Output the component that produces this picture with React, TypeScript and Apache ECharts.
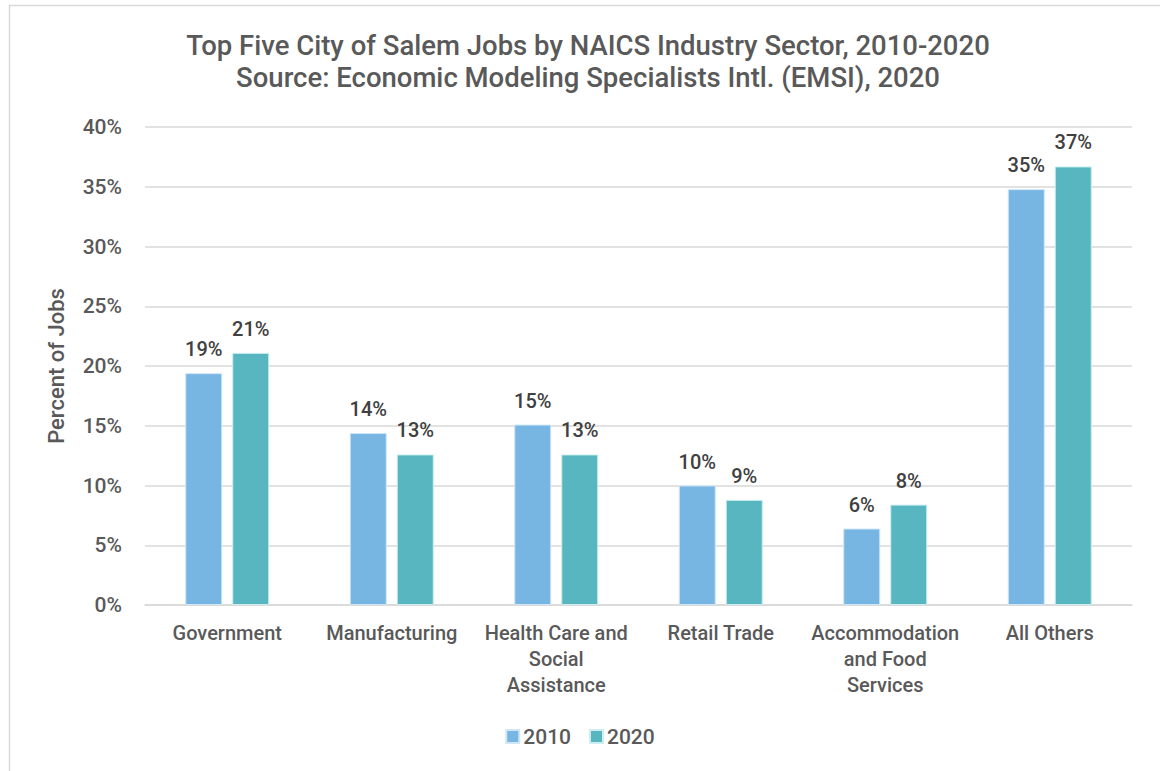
import React, { useEffect, useRef } from "react";
import * as echarts from "echarts";

const categories = [
  "Government",
  "Manufacturing",
  "Health Care and\nSocial\nAssistance",
  "Retail Trade",
  "Accommodation\nand Food\nServices",
  "All Others",
];
const series2010 = [19.4, 14.4, 15.1, 10.0, 6.4, 34.8];
const series2020 = [21.1, 12.6, 12.6, 8.8, 8.4, 36.7];
const seriesNames = ["2010", "2020"];
const yTicks = { min: 0, max: 40, interval: 5 };

const FONT = "Roboto";

export default function App() {
  const ref = useRef<HTMLDivElement>(null);
  useEffect(() => {
    const chart = echarts.init(ref.current!, null, { renderer: "svg" });
    const label = {
      show: true,
      position: "top",
      distance: 14,
      fontFamily: FONT,
      fontSize: 20,
      fontWeight: 500,
      color: "#404040",
      formatter: (p: any) => Math.round(p.value) + "%",
    };
    chart.setOption({
      animation: false,
      backgroundColor: "#fff",
      textStyle: { fontFamily: FONT },
      graphic: [
        {
          type: "rect",
          shape: { x: 9.5, y: 5.5, width: 1300, height: 900 },
          style: { fill: "none", stroke: "#d9d9d9", lineWidth: 1.5 },
          silent: true,
        },
      ],
      title: {
        text: "Top Five City of Salem Jobs by NAICS Industry Sector, 2010-2020\nSource: Economic Modeling Specialists Intl. (EMSI), 2020",
        left: 583,
        textAlign: "center",
        top: 24,
        textStyle: {
          fontFamily: FONT,
          fontSize: 27.5,
          fontWeight: 500,
          color: "#595959",
          lineHeight: 32,
        },
      },
      legend: {
        data: seriesNames,
        bottom: 19,
        left: "center",
        itemWidth: 13,
        itemHeight: 13,
        itemGap: 18,
        icon: "rect",
        textStyle: { fontFamily: FONT, fontSize: 21, fontWeight: 500, color: "#595959", padding: [0, 0, 0, -1] },
      },
      grid: { left: 145, right: 28, top: 127, bottom: 166, containLabel: false },
      xAxis: {
        type: "category",
        data: categories,
        axisLine: { lineStyle: { color: "#d9d9d9", width: 1.5 } },
        axisTick: { show: false },
        axisLabel: {
          interval: 0,
          fontFamily: FONT,
          fontSize: 20,
          fontWeight: 500,
          color: "#595959",
          lineHeight: 26,
          margin: 15,
        },
      },
      yAxis: {
        type: "value",
        min: yTicks.min,
        max: yTicks.max,
        interval: yTicks.interval,
        name: "Percent of Jobs",
        nameLocation: "middle",
        nameGap: 78,
        nameTextStyle: { fontFamily: FONT, fontSize: 22, fontWeight: 500, color: "#595959" },
        axisLine: { show: false },
        axisTick: { show: false },
        splitLine: { lineStyle: { color: "#d9d9d9", width: 1.5 } },
        axisLabel: {
          fontFamily: FONT,
          fontSize: 21,
          fontWeight: 500,
          color: "#595959",
          margin: 23,
          formatter: (v: number) => v + "%",
        },
      },
      series: [
        {
          name: seriesNames[0],
          type: "bar",
          data: series2010,
          barWidth: 37,
          barGap: "27%",
          itemStyle: { color: "#77B5E3", borderColor: "#cfe6f7", borderWidth: 1 },
          label,
        },
        {
          name: seriesNames[1],
          type: "bar",
          data: series2020,
          barWidth: 37,
          itemStyle: { color: "#58B6C0", borderColor: "#cdeef1", borderWidth: 1 },
          label,
        },
      ],
    });
    return () => chart.dispose();
  }, []);
  return (
    <div
      ref={ref}
      style={{ position: "fixed", left: 0, top: 0, width: 1160, height: 771 }}
    />
  );
}
